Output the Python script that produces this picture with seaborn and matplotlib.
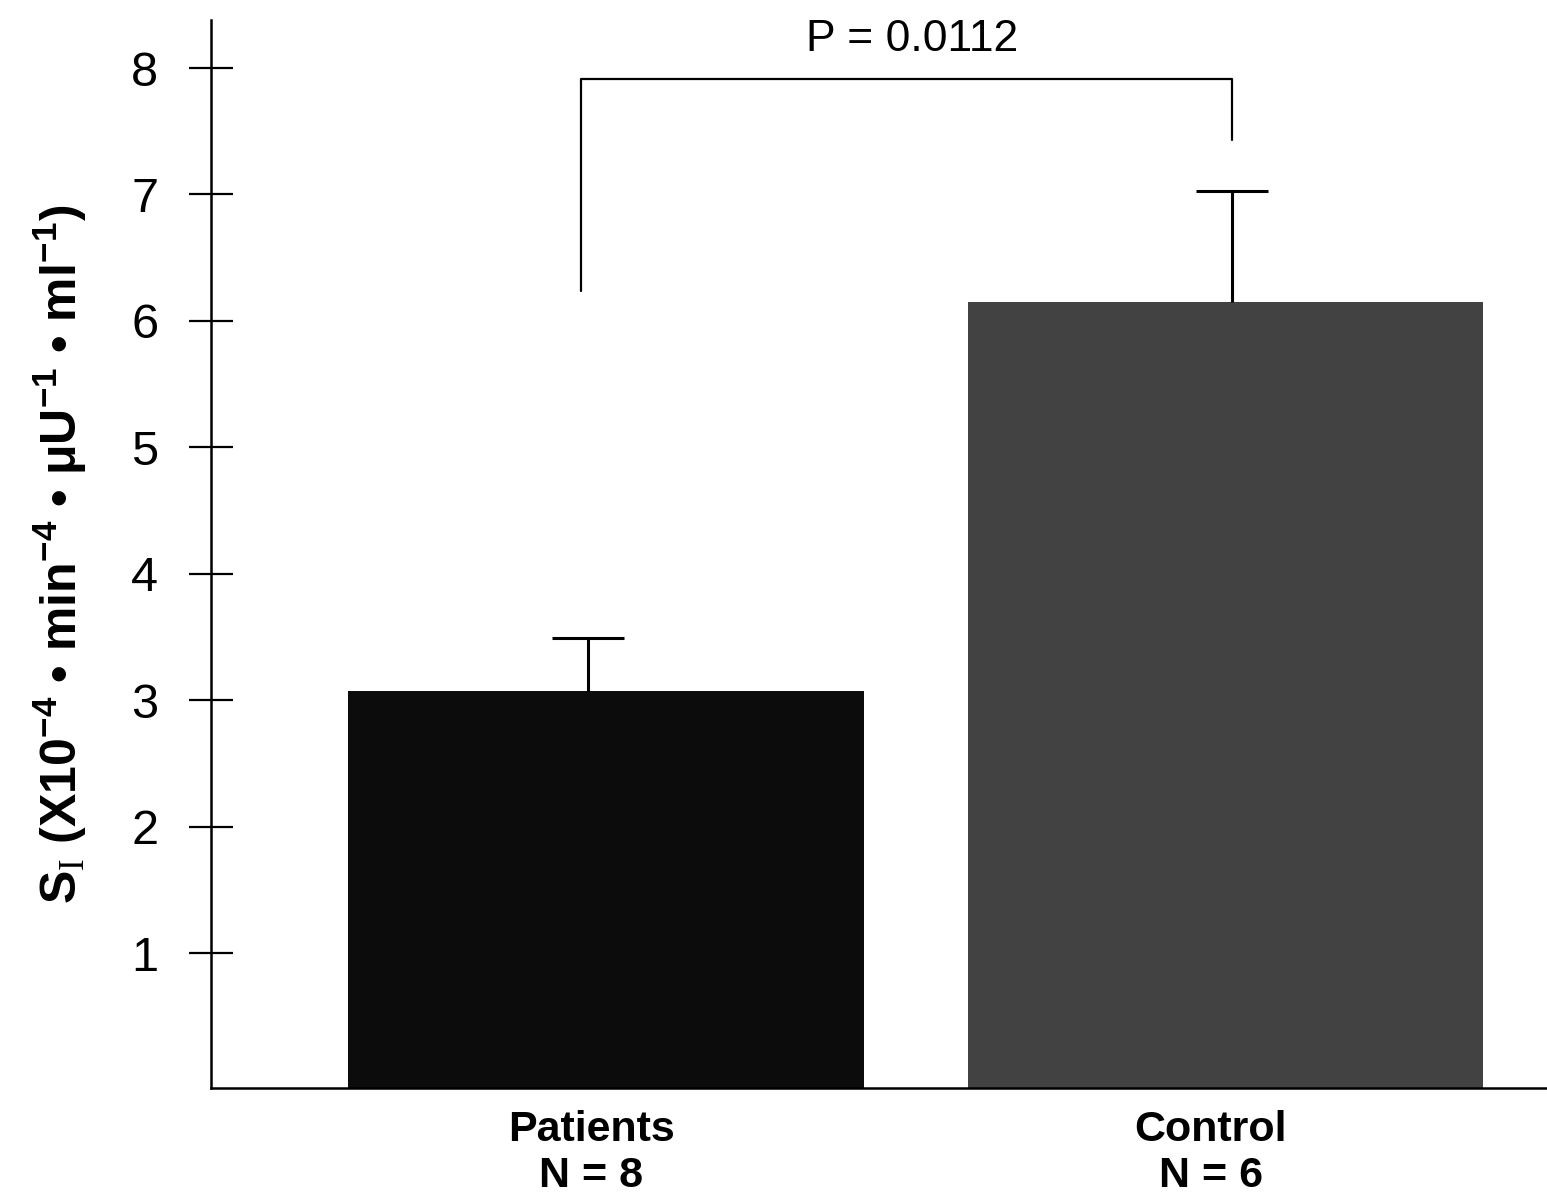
import pandas as pd
import seaborn as sns
import matplotlib.pyplot as plt

# Data (insulin sensitivity, mean + SEM)
groups = ["Patients", "Control"]
group_labels = ["Patients\nN = 8", "Control\nN = 6"]
si_mean = [3.07, 6.15]
si_sem = [0.42, 0.88]
bar_colors = ["#0c0c0c", "#424242"]
p_text = "P = 0.0112"
bracket_top = 7.91
bracket_left_low = 6.24
bracket_right_low = 7.43

sns.set_style("ticks")
plt.rcParams["font.family"] = ["Liberation Sans", "DejaVu Sans"]
plt.rcParams["mathtext.fontset"] = "custom"
plt.rcParams["mathtext.rm"] = "Liberation Serif"
plt.rcParams["mathtext.bf"] = "Liberation Sans:bold"
for key in ["text.color", "axes.labelcolor", "xtick.color", "ytick.color", "axes.edgecolor"]:
    plt.rcParams[key] = "black"

df = pd.DataFrame({"group": groups, "si": si_mean})

fig = plt.figure(figsize=(15.47, 11.97), dpi=100)
ax = fig.add_axes([0.1364, 0.0911, 0.8636, 0.8922])

y_bottom = -0.066
sns.barplot(data=df, x="group", y="si", hue="group", palette=bar_colors,
            width=0.832, saturation=1, legend=False, ax=ax, linewidth=0, zorder=2)
# the original bars sit on the x axis line
for p in ax.patches:
    p.set_y(y_bottom)
    p.set_height(p.get_height() - y_bottom)

# error bars (upper only), slightly off-centre as in the original
err_x = [-0.029, 1.011]
eb = ax.errorbar(err_x, si_mean, yerr=[[0, 0], si_sem], fmt="none",
                 ecolor="black", elinewidth=2.2, capsize=26, capthick=2.2, zorder=3)
eb[1][0].set_visible(False)

# significance bracket
bx = [-0.04, 1.011]
ax.plot([bx[0], bx[0], bx[1], bx[1]],
        [bracket_left_low, bracket_top, bracket_top, bracket_right_low],
        color="black", lw=1.6)
ax.text(0.495, 8.06, p_text, ha="center", va="bottom", fontsize=32)

ax.set_xlim(-0.638, 1.52)
ax.set_ylim(y_bottom, 8.38)
ax.set_yticks(range(1, 9))
ax.set_yticklabels([str(v) for v in range(1, 9)], fontsize=35)
ax.set_xticks([-0.024, 0.977])
ax.set_xticklabels(group_labels, fontsize=31, fontweight="bold")
ax.tick_params(axis="y", direction="inout", length=32, width=1.6, pad=22)
ax.tick_params(axis="x", length=0, pad=16)

ax.set_xlabel("")
ax.set_ylabel(r"S$_{\mathrm{I}}$ (X10$^{\mathbf{-4}}$ • min$^{\mathbf{-4}}$ • μU$^{\mathbf{-1}}$ • ml$^{\mathbf{-1}}$)",
              fontsize=36, fontweight="bold", labelpad=30)

sns.despine(ax=ax)
for s in ["left", "bottom"]:
    ax.spines[s].set_linewidth(1.8)

fig.savefig("out.png", dpi=100)
